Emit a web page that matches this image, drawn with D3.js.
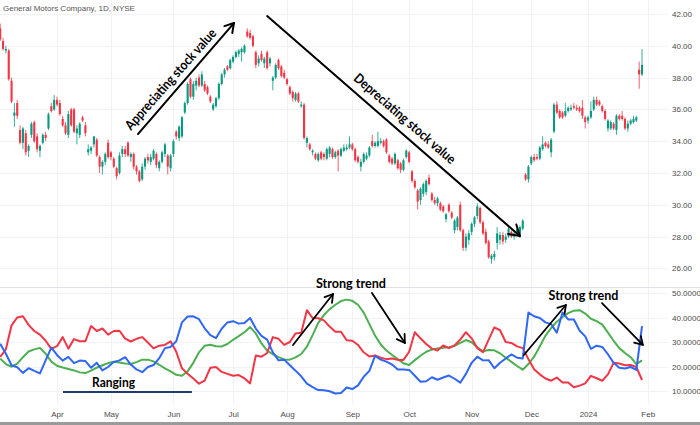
<!DOCTYPE html>
<html>
<head>
<meta charset="utf-8">
<script src="https://cdn.jsdelivr.net/npm/d3@7"></script>
<style>
  body { margin: 0; background: #fff; }
  svg { display: block; }
  .axis text { font-family: "Liberation Sans Narrow", "Liberation Sans", sans-serif; font-size: 8px; fill: #4a4a4a; }
  .note { font-family: Lato, "Open Sans", sans-serif; font-weight: 700; fill: #000; }
</style>
</head>
<body>
<div id="chart"></div>
<script>
// Daily candles, one [open, high, low, close] per bar, grouped by month
const mar = [[41.1,41.4,40.3,40.4],[40.3,40.5,39.7,39.8],[39.7,40.0,39.5,39.8],[39.7,39.8,37.8,37.9],[37.8,38.0,36.4,36.5],
  [35.6,36.4,34.9,35.8],[36.4,36.6,35.4,35.6],[34.7,35.0,33.8,33.9],[33.9,34.9,33.5,34.8],[34.5,34.7,33.1,33.3],
  [33.4,33.8,33.0,33.7],[34.4,35.2,34.2,35.1],[35.2,35.3,33.9,34.0],[34.3,34.5,33.3,33.5],[33.4,33.8,33.0,33.7],
  [33.9,34.5,33.8,34.4],[34.4,34.6,34.0,34.2],[34.8,35.8,34.7,35.7],[36.2,36.4,35.8,35.9],[36.0,36.9,35.9,36.6]];
const apr = [[36.6,36.8,36.2,36.3],[36.4,36.6,35.6,35.7],[35.4,35.6,34.9,35.0],[35.0,35.2,34.4,34.5],[34.4,35.9,34.2,35.7],
  [36.0,36.1,34.9,35.0],[36.0,36.1,34.5,34.6],[34.5,35.0,33.8,34.8],[34.4,35.2,34.2,35.1],[35.5,35.6,35.2,35.3],
  [35.0,35.2,34.3,34.5],[33.3,33.8,33.1,33.5],[33.4,33.7,33.2,33.6],[33.8,34.3,33.6,34.3],[34.1,34.2,33.0,33.1],
  [33.0,33.1,32.0,32.4],[32.4,32.8,31.9,32.7],[32.7,33.3,32.5,33.2],[33.9,34.1,32.9,33.0]];
const may = [[33.3,33.4,32.8,33.0],[32.9,33.0,32.3,32.4],[32.3,32.4,31.6,31.8],[32.0,33.3,31.9,33.1],[33.2,33.7,33.0,33.5],
  [33.5,33.7,33.0,33.2],[33.9,34.0,33.0,33.1],[33.0,33.3,32.7,33.2],[33.2,33.3,32.2,32.4],[32.4,32.5,31.9,32.1],
  [32.1,32.2,31.4,31.5],[31.6,32.6,31.5,32.4],[32.4,33.0,32.2,32.9],[33.0,33.2,32.6,32.8],[32.7,33.2,32.5,33.0],
  [32.9,33.5,32.8,33.4],[33.2,33.3,32.3,32.5],[32.3,32.8,32.1,32.7],[32.7,33.4,32.6,33.3],[33.2,33.9,33.0,33.8],
  [33.1,33.2,31.9,32.4],[32.3,33.2,32.1,33.1]];
const jun = [[33.2,34.1,33.0,34.0],[34.6,34.7,34.1,34.3],[34.2,35.0,34.0,34.9],[34.3,35.6,34.2,35.5],[35.8,36.5,35.7,36.4],
  [36.4,37.7,36.3,37.6],[37.9,38.0,36.7,36.8],[36.8,37.8,36.6,37.6],[37.5,38.0,37.2,37.8],[38.0,38.2,37.4,37.5],
  [37.5,38.4,37.4,38.2],[37.6,37.8,37.1,37.2],[37.4,37.5,36.9,37.0],[36.8,36.9,36.4,36.5],[36.0,36.4,35.9,36.3],
  [36.2,36.8,36.1,36.7],[36.7,37.7,36.6,37.6],[37.6,38.3,37.5,38.2],[38.2,38.6,38.0,38.5],[38.7,38.8,38.4,38.5],
  [38.6,39.2,38.5,39.1]];
const jul = [[39.0,39.4,38.9,39.3],[39.3,39.7,39.2,39.6],[39.5,39.8,39.3,39.7],[39.6,39.9,39.0,39.8],[39.6,40.1,39.5,40.0],
  [40.9,41.1,40.5,40.6],[40.8,41.0,40.4,40.5],[40.6,40.7,39.9,40.0],[39.6,39.7,38.6,38.8],[38.9,39.4,38.7,39.2],
  [39.5,39.7,39.0,39.1],[38.9,39.3,38.6,39.2],[39.6,39.7,38.5,38.6],[38.9,39.3,38.7,39.2],[37.8,38.1,37.2,38.0],
  [38.0,38.9,37.9,38.8],[39.1,39.2,38.5,38.6],[38.7,38.8,38.0,38.1],[38.3,38.5,37.9,38.0]];
const aug = [[37.9,38.0,37.5,37.6],[37.4,37.5,36.9,37.0],[37.1,37.2,36.5,36.7],[36.6,37.1,36.5,37.0],[37.0,37.1,36.4,36.5],
  [36.2,36.5,36.1,36.3],[36.3,36.4,34.1,34.2],[33.9,34.3,33.6,34.2],[33.8,33.9,33.4,33.5],[33.3,33.5,33.1,33.4],
  [33.2,33.3,32.8,32.9],[32.8,33.3,32.7,33.2],[33.3,33.4,32.8,32.9],[33.2,33.3,32.8,33.0],[32.9,33.6,32.8,33.5],
  [33.2,33.7,33.0,33.6],[33.5,33.6,32.9,33.0],[33.0,33.4,32.9,33.3],[33.4,33.5,32.1,33.1],[33.1,33.6,33.0,33.5],
  [33.4,33.8,33.3,33.6],[33.5,33.8,33.4,33.6],[33.6,34.3,33.5,33.8]];
const sep = [[33.8,33.9,33.4,33.5],[33.5,33.6,32.7,32.8],[33.0,33.1,32.6,32.7],[32.4,32.9,32.1,32.7],[32.7,33.3,32.6,33.2],
  [32.9,33.3,32.8,33.1],[33.1,33.7,33.0,33.6],[34.0,34.4,33.6,33.7],[33.7,34.0,33.6,33.9],[33.7,34.6,33.6,34.0],
  [33.9,34.2,33.8,34.0],[34.0,34.1,33.6,33.7],[34.1,34.2,33.2,33.3],[33.1,33.2,32.6,32.7],[32.9,33.0,32.5,32.6],
  [32.6,33.3,32.5,33.2],[32.8,32.9,32.2,32.3],[32.6,32.7,32.0,32.2],[32.2,32.9,32.1,32.8],[33.0,33.5,32.9,33.4]];
const oct = [[33.3,33.4,32.6,32.7],[32.1,32.2,31.4,31.5],[31.5,31.6,31.0,31.1],[30.9,31.0,29.7,30.2],[30.3,31.1,30.0,31.0],
  [30.7,31.4,30.5,31.3],[30.8,31.6,30.6,31.5],[31.7,31.9,31.2,31.3],[30.7,30.8,30.2,30.3],[30.3,30.5,30.0,30.1],
  [30.1,30.5,29.9,30.4],[30.1,30.2,29.6,29.7],[29.9,30.0,29.5,29.6],[29.1,29.5,28.9,29.4],[30.0,30.1,29.5,29.6],
  [29.5,29.6,29.1,29.2],[28.4,29.1,28.2,29.0],[28.6,29.3,28.4,29.2],[30.0,30.2,28.3,28.4],[28.4,28.5,27.1,27.3],
  [27.3,28.2,27.1,28.0],[27.8,28.4,27.5,28.2]];
const nov = [[28.3,28.9,28.1,28.8],[28.8,29.3,28.6,29.2],[29.3,30.1,29.1,29.9],[29.8,29.9,28.8,28.9],[28.9,29.0,28.1,28.2],
  [28.3,28.5,27.5,27.6],[27.7,27.8,26.6,26.7],[26.6,26.9,26.3,26.8],[26.7,27.1,26.5,26.9],[27.6,28.6,27.2,28.2],
  [27.8,28.3,27.5,28.1],[28.1,28.3,27.5,27.7],[27.8,28.2,27.6,28.0],[28.0,28.6,27.9,28.5],[28.3,28.4,27.9,28.0],
  [28.0,28.4,27.8,28.2],[28.2,28.6,28.1,28.5],[28.0,28.7,27.9,28.6],[28.5,29.1,28.4,29.0],[31.9,32.0,31.5,31.6],
  [31.6,32.5,31.4,32.4]];
const dec = [[32.6,33.1,32.5,33.0],[33.0,33.2,32.7,32.8],[33.0,33.2,32.8,32.9],[32.9,33.7,32.8,33.6],[33.5,34.3,33.4,33.8],
  [33.9,34.0,33.6,33.7],[33.8,34.0,33.5,33.6],[33.3,34.2,33.0,34.1],[34.6,36.4,34.5,36.3],[36.3,36.5,35.7,35.8],
  [35.9,36.0,35.4,35.5],[35.8,35.9,35.4,35.5],[35.6,36.4,35.5,35.9],[35.9,36.2,35.8,36.1],[36.0,36.3,35.9,36.1],
  [36.2,36.4,36.0,36.1],[36.1,36.3,35.9,36.0],[36.1,36.2,35.8,35.9],[36.1,36.6,35.4,35.6],[35.5,35.6,34.8,35.2]];
const jan = [[35.3,35.6,35.1,35.5],[35.5,36.5,35.4,35.9],[36.0,36.8,35.9,36.6],[36.6,36.8,36.2,36.3],[36.5,36.6,36.2,36.3],
  [36.2,36.3,35.8,35.9],[35.9,36.0,35.3,35.4],[34.8,35.4,34.6,35.3],[34.8,35.3,34.7,35.2],[35.1,35.2,34.7,34.8],
  [34.7,35.7,34.4,35.6],[35.6,35.7,35.3,35.4],[35.6,35.9,35.3,35.4],[35.4,35.5,34.7,34.8],[34.8,35.3,34.6,35.1],
  [35.1,35.4,35.0,35.3],[35.2,35.6,35.1,35.4],[35.3,35.6,35.2,35.5],[38.5,39.0,37.3,38.2],[38.2,39.8,38.1,38.8]];

// DMI readings, one value every second bar
const minusDI = [23.9,27.0,36.8,40.0,40.5,37.0,34.5,33.0,30.5,27.2,28.3,32.0,27.3,31.2,30.3,30.3,36.5,34.5,35.5,33.0,
  34.5,34.6,31.4,30.2,31.3,32.0,29.8,27.4,28.5,28.8,30.3,26.0,19.3,17.0,15.1,13.0,14.2,19.5,19.8,17.8,
  17.0,16.2,16.5,15.2,13.1,24.5,24.0,25.5,32.0,31.3,28.8,30.0,33.5,33.8,43.0,39.8,39.7,38.8,36.3,34.2,
  34.2,30.7,30.5,28.8,25.8,24.1,24.5,23.6,23.0,23.3,22.7,22.7,26.0,34.0,31.5,29.2,27.3,26.5,28.6,27.5,
  28.6,31.0,34.0,31.5,27.5,25.8,31.0,36.0,34.8,30.0,29.6,28.2,27.5,23.0,18.9,16.8,15.1,14.2,15.5,13.5,
  13.5,11.5,12.2,13.1,16.2,15.2,14.2,16.8,21.5,21.2,20.5,20.6,19.8,14.5];
const plusDI = [29.3,25.2,20.5,19.7,17.4,19.3,18.2,17.2,22.5,27.7,24.7,22.4,23.9,21.4,22.4,22.2,19.5,21.5,18.4,19.8,
  21.9,22.5,23.8,20.8,18.8,17.7,19.8,20.6,23.4,27.5,28.0,30.3,38.0,40.4,40.5,39.3,35.6,32.8,31.6,35.4,
  38.0,38.5,37.5,37.8,39.8,35.5,32.5,31.0,25.8,22.5,22.8,20.5,18.3,16.0,13.0,11.6,10.4,10.3,9.9,9.0,
  9.2,11.4,10.8,12.3,15.8,18.2,24.3,22.8,22.0,20.8,18.8,18.8,18.6,16.2,13.8,14.0,15.6,14.6,15.5,16.3,
  15.0,13.4,17.0,21.5,24.0,22.5,22.6,19.3,21.5,23.3,24.9,23.6,23.3,42.0,40.5,39.8,38.0,37.3,33.8,42.0,
  39.2,39.2,34.7,32.3,27.2,28.5,28.0,25.0,21.5,19.5,19.2,19.8,18.6,36.5];
const adx = [23.2,21.0,19.9,21.2,23.8,26.1,27.0,27.6,25.2,22.0,20.3,19.6,19.0,18.4,17.6,17.3,18.3,19.5,20.5,21.4,
  21.9,21.6,21.2,21.0,21.8,22.8,22.8,22.1,20.7,19.2,18.0,16.6,16.2,18.0,21.5,25.8,28.5,28.9,28.3,28.2,
  29.2,30.9,32.4,34.0,36.1,33.5,29.4,26.5,25.0,23.8,22.9,22.8,23.7,25.1,28.1,32.8,37.8,41.0,43.4,45.2,
  46.7,47.3,46.8,45.2,42.0,37.3,32.6,29.0,26.5,24.7,23.0,21.3,20.6,22.6,24.4,26.0,26.9,27.4,27.6,27.9,
  28.4,29.6,30.8,29.9,27.8,26.2,26.7,26.6,25.4,23.6,21.9,20.2,18.7,21.0,24.0,28.2,32.6,35.7,38.3,40.1,
  41.8,42.8,43.0,41.6,39.5,38.5,37.1,33.8,30.5,27.5,25.5,23.8,21.0,22.5];

// Axis ticks
const priceTicks = [26, 28, 30, 32, 34, 36, 38, 40, 42];
const dmiTicks = [10, 20, 30, 40, 50];
const monthBars = [20, 39, 61, 82, 101, 124, 144, 166, 187, 207, 228];
const monthLabels = ["Apr", "May", "Jun", "Jul", "Aug", "Sep", "Oct", "Nov", "Dec", "2024", "Feb"];

const candles = [mar, apr, may, jun, jul, aug, sep, oct, nov, dec, jan].flat()
  .map((d, i) => ({ i, open: d[0], high: d[1], low: d[2], close: d[3] }));

const width = 700, height = 425;
const upColor = "#089981", downColor = "#f23645";

const svg = d3.select("#chart").append("svg")
  .attr("width", width)
  .attr("height", height);

const x = d3.scaleLinear().domain([0, 228]).range([0.2, 647.7]);
const yPrice = d3.scaleLinear().domain([26, 42]).range([268.4, 14]);
const yDmi = d3.scaleLinear().domain([10, 50]).range([391, 293]);

// grid
const grid = svg.append("g").attr("stroke", "#f0f2f6").attr("stroke-width", 1);
grid.selectAll(".vg").data(monthBars).join("line")
  .attr("x1", d => Math.round(x(d)) + 0.5).attr("x2", d => Math.round(x(d)) + 0.5)
  .attr("y1", 0).attr("y2", 405);
grid.selectAll(".hp").data(priceTicks).join("line")
  .attr("x1", 0).attr("x2", 668)
  .attr("y1", d => Math.round(yPrice(d)) + 0.5).attr("y2", d => Math.round(yPrice(d)) + 0.5);
grid.selectAll(".hd").data(dmiTicks).join("line")
  .attr("x1", 0).attr("x2", 668)
  .attr("y1", d => Math.round(yDmi(d)) + 0.5).attr("y2", d => Math.round(yDmi(d)) + 0.5);

// panel separator
svg.append("line")
  .attr("x1", 0).attr("x2", width).attr("y1", 287.5).attr("y2", 287.5)
  .attr("stroke", "#e0e3eb");

// candles
const cg = svg.append("g");
cg.selectAll("line").data(candles).join("line")
  .attr("x1", d => x(d.i)).attr("x2", d => x(d.i))
  .attr("y1", d => yPrice(d.high)).attr("y2", d => yPrice(d.low))
  .attr("stroke", d => d.close >= d.open ? upColor : downColor)
  .attr("stroke-width", 0.8);
cg.selectAll("rect").data(candles).join("rect")
  .attr("x", d => x(d.i) - 1.05)
  .attr("width", 2.1)
  .attr("y", d => yPrice(Math.max(d.open, d.close)))
  .attr("height", d => Math.max(0.8, Math.abs(yPrice(d.open) - yPrice(d.close))))
  .attr("fill", d => d.close >= d.open ? upColor : downColor);

// DMI lines
const dmiLine = d3.line().x((d, k) => x(k * 2)).y(d => yDmi(d));
[[adx, "#4caf50"], [minusDI, "#f23645"], [plusDI, "#2f66f6"]].forEach(([vals, col]) => {
  svg.append("path")
    .datum(vals)
    .attr("d", dmiLine)
    .attr("fill", "none")
    .attr("stroke", col)
    .attr("stroke-width", 2)
    .attr("stroke-linejoin", "round");
});

// axes
const priceAxis = svg.append("g").attr("class", "axis")
  .attr("transform", "translate(672,0)")
  .call(d3.axisRight(yPrice).tickValues(priceTicks).tickFormat(d3.format(".2f")).tickSize(0).tickPadding(0));
const dmiAxis = svg.append("g").attr("class", "axis")
  .attr("transform", "translate(672,0)")
  .call(d3.axisRight(yDmi).tickValues(dmiTicks).tickFormat(d3.format(".4f")).tickSize(0).tickPadding(0));
const timeAxis = svg.append("g").attr("class", "axis")
  .attr("transform", "translate(0,408)")
  .call(d3.axisBottom(x).tickValues(monthBars).tickFormat((d, k) => monthLabels[k]).tickSize(0).tickPadding(3));
[priceAxis, dmiAxis, timeAxis].forEach(a => a.select(".domain").remove());

// title
svg.append("text")
  .attr("x", 3).attr("y", 11)
  .attr("class", "axis")
  .style("font-family", "'Liberation Sans Narrow', sans-serif")
  .style("font-size", "8px")
  .style("fill", "#555")
  .text("General Motors Company, 1D, NYSE");

// bottom border
svg.append("rect").attr("x", 0).attr("y", 422).attr("width", width).attr("height", 3).attr("fill", "#9a9a9a");

// annotations (positions in data space)
function arrow(x1, y1, x2, y2, head, sw) {
  const g = svg.append("g").attr("stroke", "#000").attr("stroke-width", sw).attr("fill", "none")
    .attr("stroke-linecap", "round").attr("stroke-linejoin", "round");
  g.append("line").attr("x1", x1).attr("y1", y1).attr("x2", x2).attr("y2", y2);
  const a = Math.atan2(y2 - y1, x2 - x1);
  const p1 = [x2 - head * Math.cos(a - 0.55), y2 - head * Math.sin(a - 0.55)];
  const p2 = [x2 - head * Math.cos(a + 0.55), y2 - head * Math.sin(a + 0.55)];
  g.append("path").attr("d", `M${p1[0]},${p1[1]}L${x2},${y2}L${p2[0]},${p2[1]}`);
}
function note(text, cx, cy, angle, len) {
  svg.append("text")
    .attr("class", "note")
    .attr("transform", `translate(${cx},${cy}) rotate(${angle})`)
    .attr("text-anchor", "middle")
    .attr("dy", "0.35em")
    .attr("textLength", len)
    .attr("lengthAdjust", "spacingAndGlyphs")
    .style("font-size", "13.5px")
    .text(text);
}
function label(text, cx, cy, len) {
  svg.append("text").attr("class", "note").attr("text-anchor", "middle")
    .attr("x", cx).attr("y", cy)
    .attr("textLength", len)
    .attr("lengthAdjust", "spacingAndGlyphs")
    .style("font-size", "13px")
    .text(text);
}

arrow(x(48.5), yPrice(34.45), x(82.3), yPrice(41.43), 10, 2);
note("Appreciating stock value", x(59.96), yPrice(37.9), -48.5, 130);
arrow(x(94.0), yPrice(41.87), x(183.0), yPrice(28.04), 12, 2);
note("Depreciating stock value", x(142.5), yPrice(35.43), 41, 130);

arrow(x(103.1), yDmi(28.8), x(117.2), yDmi(49.6), 9, 1.8);
arrow(x(130.9), yDmi(50.0), x(142.5), yDmi(29.6), 9, 1.8);
arrow(x(184.4), yDmi(24.7), x(199.2), yDmi(45.1), 9, 1.8);
arrow(x(211.9), yDmi(45.9), x(226.3), yDmi(28.8), 9, 1.8);

label("Strong trend", x(123.5), yDmi(52.0), 70);
label("Strong trend", x(205.4), yDmi(47.1), 70);
label("Ranging", x(39.9), yDmi(11.7), 43);
svg.append("line")
  .attr("x1", x(22.1)).attr("x2", x(67.5)).attr("y1", yDmi(9.6)).attr("y2", yDmi(9.6))
  .attr("stroke", "#1f3c6e").attr("stroke-width", 2);
</script>
</body>
</html>
